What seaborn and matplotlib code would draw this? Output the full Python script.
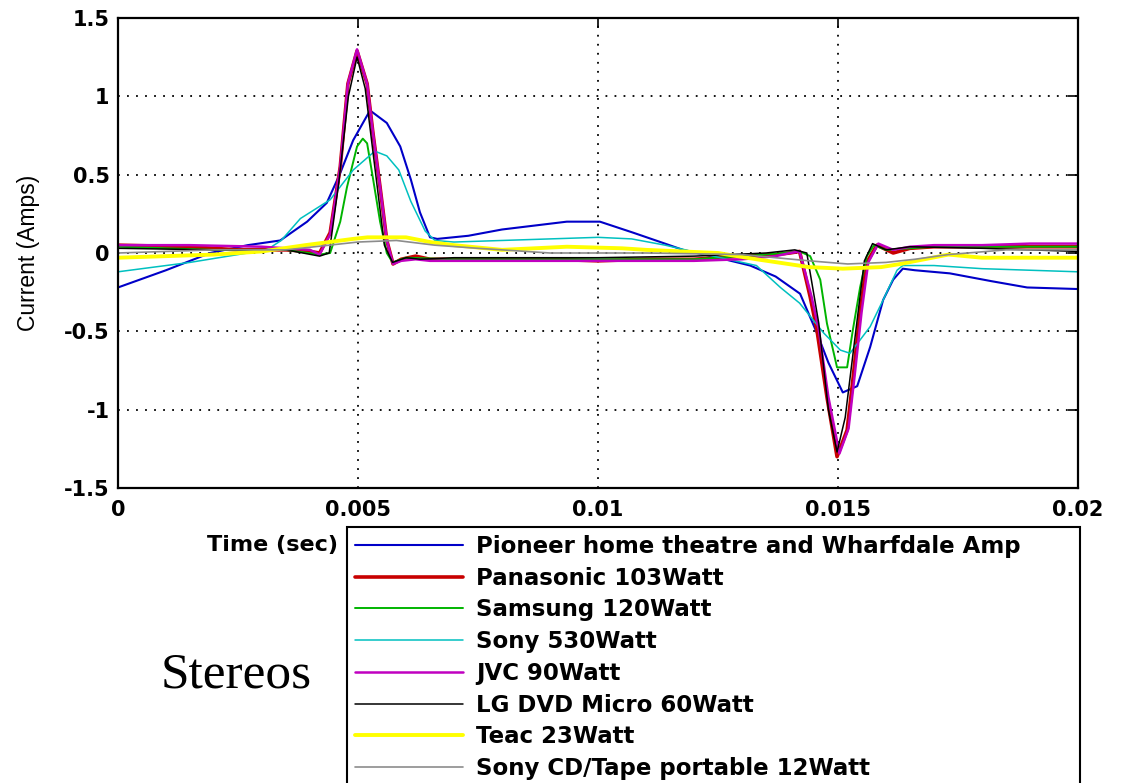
import pandas as pd
import seaborn as sns
import matplotlib.pyplot as plt

# --- dados (tempo em ms, corrente em A) ---
modelos = [
    "Pioneer home theatre and Wharfdale Amp",
    "Panasonic 103Watt",
    "Samsung 120Watt",
    "Sony 530Watt",
    "JVC 90Watt",
    "LG DVD Micro 60Watt",
    "Teac 23Watt",
    "Sony CD/Tape portable 12Watt",
]

t_pioneer = [0, 1.0, 1.92, 2.7, 3.38, 3.94, 4.35, 4.63, 4.9, 5.25, 5.6, 5.88, 6.1, 6.29,
             6.5, 6.65, 7.3, 8.0, 9.35, 10.04, 10.73, 11.3, 11.77, 12.5, 13.17, 13.7,
             14.21, 14.56, 14.8, 15.1, 15.4, 15.67, 15.94, 16.15, 16.35, 16.6, 17.33,
             18.2, 18.94, 20.0]
i_pioneer = [-0.22, -0.11, 0.0, 0.05, 0.08, 0.2, 0.32, 0.51, 0.72, 0.91, 0.83, 0.68, 0.47,
             0.26, 0.10, 0.09, 0.11, 0.15, 0.2, 0.2, 0.13, 0.07, 0.02, -0.03, -0.08, -0.15,
             -0.26, -0.51, -0.7, -0.89, -0.85, -0.6, -0.3, -0.17, -0.1, -0.11, -0.13,
             -0.18, -0.22, -0.23]

t_panasonic = [0, 1.5, 2.5, 3.5, 4.0, 4.2, 4.42, 4.63, 4.79, 4.98, 5.19, 5.31, 5.46, 5.6,
               5.73, 5.9, 6.2, 6.5, 7, 8, 9, 10, 11, 12, 13, 13.7, 14.0, 14.2, 14.42,
               14.56, 14.77, 14.98, 15.19, 15.31, 15.46, 15.6, 15.81, 16.15, 16.5, 17,
               18, 19, 20]
i_panasonic = [0.05, 0.04, 0.02, 0.02, 0.01, 0.0, 0.13, 0.55, 1.08, 1.29, 1.08, 0.77, 0.42,
               0.08, -0.07, -0.04, -0.02, -0.04, -0.04, -0.04, -0.04, -0.05, -0.04, -0.04,
               -0.02, -0.01, 0.0, 0.01, -0.28, -0.49, -0.92, -1.3, -1.13, -0.81, -0.38,
               -0.06, 0.05, 0.0, 0.03, 0.04, 0.04, 0.04, 0.04]

t_samsung = [0, 2, 3.5, 4.2, 4.42, 4.63, 4.77, 4.98, 5.1, 5.19, 5.31, 5.46, 5.6, 5.72, 6,
             7, 8, 10, 12, 13.5, 14.2, 14.42, 14.63, 14.77, 14.98, 15.19, 15.31, 15.46,
             15.6, 15.75, 16, 17, 18, 20]
i_samsung = [0.04, 0.02, 0.02, -0.01, 0.0, 0.2, 0.42, 0.68, 0.73, 0.70, 0.48, 0.2, 0.0,
             -0.06, -0.03, -0.04, -0.04, -0.04, -0.04, -0.01, 0.01, -0.02, -0.17, -0.45,
             -0.73, -0.73, -0.49, -0.22, -0.02, 0.05, 0.02, 0.04, 0.04, 0.04]

t_sony530 = [0, 1.5, 2.5, 3.1, 3.4, 3.8, 4.42, 4.9, 5.35, 5.6, 5.85, 6.1, 6.4, 6.6, 7, 8,
             9, 10, 10.7, 11.4, 12.1, 12.7, 13.3, 13.8, 14.2, 14.7, 15.05, 15.25, 15.67,
             15.94, 16.23, 16.35, 17, 18, 19, 20]
i_sony530 = [-0.12, -0.06, -0.01, 0.02, 0.08, 0.22, 0.34, 0.53, 0.65, 0.62, 0.53, 0.33,
             0.14, 0.08, 0.07, 0.08, 0.09, 0.1, 0.09, 0.05, 0.0, -0.04, -0.08, -0.22,
             -0.32, -0.51, -0.62, -0.64, -0.47, -0.3, -0.11, -0.08, -0.08, -0.1, -0.11,
             -0.12]

t_jvc = [0, 1.5, 3.0, 3.5, 4.0, 4.2, 4.42, 4.63, 4.79, 4.98, 5.19, 5.31, 5.46, 5.6, 5.73,
         5.9, 6.2, 6.5, 7, 8, 9, 10, 11, 12, 13, 13.7, 14.0, 14.2, 14.45, 14.6, 14.8,
         15.03, 15.22, 15.34, 15.49, 15.63, 15.84, 16.15, 16.5, 17, 18, 19, 20]
i_jvc = [0.05, 0.05, 0.04, 0.03, 0.02, -0.01, 0.12, 0.55, 1.08, 1.30, 1.08, 0.77, 0.42,
         0.08, -0.07, -0.05, -0.04, -0.05, -0.05, -0.05, -0.05, -0.05, -0.05, -0.05,
         -0.04, -0.02, 0.0, 0.01, -0.28, -0.49, -0.92, -1.28, -1.12, -0.8, -0.38, -0.06,
         0.06, 0.02, 0.04, 0.05, 0.05, 0.06, 0.06]

t_lg = [0, 2, 3.5, 4.2, 4.4, 4.6, 4.8, 4.98, 5.15, 5.35, 5.55, 5.72, 6.0, 6.3, 7, 8, 10,
        12, 13.5, 14.1, 14.35, 14.6, 14.8, 14.98, 15.15, 15.35, 15.55, 15.72, 16, 16.5,
        18, 20]
i_lg = [0.03, 0.02, 0.02, -0.02, 0.0, 0.45, 1.0, 1.25, 1.05, 0.55, 0.05, -0.06, -0.03,
        -0.04, -0.03, -0.03, -0.03, -0.02, 0.0, 0.02, 0.0, -0.45, -1.0, -1.27, -1.05,
        -0.55, -0.05, 0.06, 0.02, 0.04, 0.03, 0.01]

t_teac = [0, 2, 3, 3.9, 4.4, 4.9, 5.2, 6.0, 6.5, 7, 8, 9.35, 10.5, 11, 12.5, 13.3, 14.4,
          15.1, 15.9, 16.3, 17.3, 18, 20]
i_teac = [-0.03, -0.01, 0.01, 0.05, 0.07, 0.09, 0.1, 0.1, 0.07, 0.05, 0.02, 0.04, 0.03,
          0.02, 0.0, -0.04, -0.09, -0.1, -0.09, -0.07, -0.01, -0.03, -0.03]

t_sonycd = [0, 2, 3.5, 4.4, 5.0, 5.8, 6.6, 7.5, 8.0, 9, 11, 13, 14.4, 15.2, 16, 16.6,
            17.3, 18.5, 20]
i_sonycd = [0.0, 0.02, 0.02, 0.05, 0.07, 0.08, 0.05, 0.03, 0.02, 0.0, 0.0, -0.01, -0.05,
            -0.07, -0.06, -0.04, -0.01, 0.02, 0.02]

cores = ["#0000c8", "#c80000", "#00b400", "#00c0c0", "#c000c0", "#000000", "#ffff00",
         "#8c8c8c"]
larguras = [1.5, 2.6, 1.4, 1.1, 1.8, 1.1, 2.8, 1.2]

x_ticks = [0, 0.005, 0.01, 0.015, 0.02]
x_rotulos = ["0", "0.005", "0.01", "0.015", "0.02"]
y_ticks = [-1.5, -1, -0.5, 0, 0.5, 1, 1.5]
y_rotulos = ["-1.5", "-1", "-0.5", "0", "0.5", "1", "1.5"]

series = [
    (t_pioneer, i_pioneer), (t_panasonic, i_panasonic), (t_samsung, i_samsung),
    (t_sony530, i_sony530), (t_jvc, i_jvc), (t_lg, i_lg), (t_teac, i_teac),
    (t_sonycd, i_sonycd),
]

partes = []
for nome, (t, i) in zip(modelos, series):
    partes.append(pd.DataFrame({"modelo": nome, "tempo": [v / 1000 for v in t], "corrente": i}))
df = pd.concat(partes, ignore_index=True)

sns.set_style("white")
plt.rcParams["font.family"] = ["DejaVu Sans"]
plt.rcParams.update({"text.color": "black", "axes.labelcolor": "black",
                     "xtick.color": "black", "ytick.color": "black"})

fig = plt.figure(figsize=(11.21, 7.83), dpi=100)
ax = fig.add_axes([118 / 1121, 1 - 488 / 783, 960 / 1121, 470 / 783])

for nome, cor, lw in zip(modelos, cores, larguras):
    sns.lineplot(data=df[df["modelo"] == nome], x="tempo", y="corrente", color=cor,
                 linewidth=lw, label=nome, estimator=None, errorbar=None, sort=False, ax=ax)

ax.set_xlim(0, 0.02)
ax.set_ylim(-1.5, 1.5)
ax.set_xticks(x_ticks)
ax.set_xticklabels(x_rotulos)
ax.set_yticks(y_ticks)
ax.set_yticklabels(y_rotulos)
ax.tick_params(direction="in", length=7, width=1.2, top=True, right=True,
               labelsize=15, colors="black")
ax.tick_params(axis="x", pad=9)
ax.tick_params(axis="y", pad=6)
for lab in ax.get_xticklabels() + ax.get_yticklabels():
    lab.set_fontweight("bold")
for sp in ax.spines.values():
    sp.set_visible(True)
    sp.set_color("black")
    sp.set_linewidth(1.6)
ax.grid(True, color="black", linestyle=(0, (1, 4)), linewidth=1.3)

ax.set_xlabel("")
ax.set_ylabel("Current (Amps)", fontsize=16.5, color="black",
              family=["Liberation Sans", "DejaVu Sans"])
ax.yaxis.set_label_coords(-0.081, 0.5)

handles, labels = ax.get_legend_handles_labels()
ax.get_legend().remove()
leg = fig.legend(handles, labels, loc="upper left",
                 bbox_to_anchor=(347 / 1121, 0, 733 / 1121, 1 - 527 / 783),
                 bbox_transform=fig.transFigure, mode="expand", borderaxespad=0,
                 fancybox=False, framealpha=1, edgecolor="black", labelcolor="black",
                 prop={"size": 16.5, "weight": "bold"}, handlelength=4.7,
                 handletextpad=0.6, labelspacing=0.38, borderpad=0.35)
leg.get_frame().set_linewidth(1.5)

fig.text(338 / 1121, 1 - 545 / 783, "Time (sec)", ha="right", va="center",
         fontsize=16, fontweight="bold")
fig.text(236 / 1121, 1 - 675 / 783, "Stereos", ha="center", va="center",
         family=["Liberation Serif", "DejaVu Serif"], fontsize=37)

fig.savefig("out.png", dpi=100)
